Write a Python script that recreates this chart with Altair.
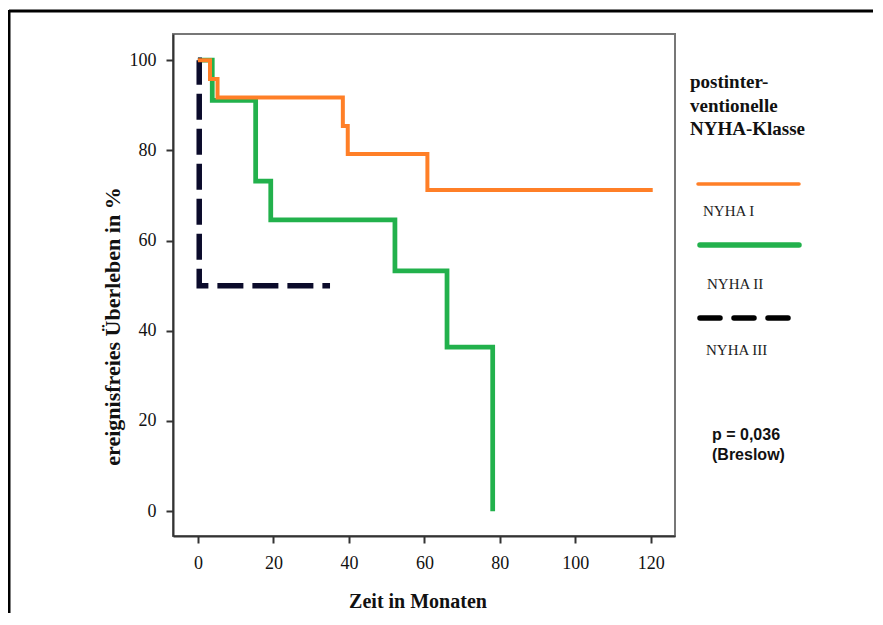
import altair as alt
import pandas as pd

# ---- data ----
names = ["NYHA II", "NYHA III", "NYHA I"]
t_nyha1 = [0, 3.2, 5.2, 38.4, 39.7, 60.8, 120.5]
s_nyha1 = [100, 95.8, 91.7, 85.4, 79.2, 71.2, 71.2]
t_nyha2 = [0, 3.8, 15.3, 19.3, 52.2, 66.0, 78.1]
s_nyha2 = [100, 91.1, 73.2, 64.6, 53.3, 36.4, 0]
t_nyha3 = [0, 0.35, 35.0]
s_nyha3 = [100, 50, 50]
x_ticks = [0, 20, 40, 60, 80, 100, 120]
y_ticks = [0, 20, 40, 60, 80, 100]

colors = {"NYHA I": "#FF7F27", "NYHA II": "#22B14C", "NYHA III": "#0B0B2B"}
widths = {"NYHA I": 4, "NYHA II": 5.5, "NYHA III": 5}
dashes = {"NYHA I": [1, 0], "NYHA II": [1, 0], "NYHA III": [26, 9]}

rows = []
for name, ts, ss in [("NYHA II", t_nyha2, s_nyha2), ("NYHA III", t_nyha3, s_nyha3), ("NYHA I", t_nyha1, s_nyha1)]:
    for t, s in zip(ts, ss):
        rows.append({"series": name, "t": t, "s": s})
df = pd.DataFrame(rows)

W, H = 502, 502
SERIF = "Liberation Serif"
SANS = "Liberation Sans"

x_axis = alt.Axis(values=x_ticks, grid=False, tickSize=7, tickWidth=2, tickColor="#333",
                  domainColor="#333", domainWidth=2, labelFont=SERIF, labelFontSize=18,
                  labelColor="#111", labelPadding=11, labelFlush=False, labelOverlap=False,
                  title="Zeit in Monaten", titleFont=SERIF, titleFontSize=20,
                  titleFontWeight="bold", titleColor="#111", titleX=244.5, titleY=65,
                  titleBaseline="middle", titleAlign="center")
y_axis = alt.Axis(values=y_ticks, grid=False, tickSize=7, tickWidth=2, tickColor="#333",
                  domainColor="#333", domainWidth=2, labelFont=SERIF, labelFontSize=18,
                  labelColor="#111", labelPadding=10, labelOverlap=False,
                  title="ereignisfreies Überleben in %", titleFont=SERIF, titleFontSize=22,
                  titleFontWeight="bold", titleColor="#111", titleX=-61, titleY=292,
                  titleAngle=270, titleBaseline="middle", titleAlign="center")

lines = alt.Chart(df).mark_line(interpolate="step-after", strokeCap="butt").encode(
    x=alt.X("t:Q", scale=alt.Scale(domain=[-6.6, 126.4], nice=False, zero=False), axis=x_axis),
    y=alt.Y("s:Q", scale=alt.Scale(domain=[-5.5, 105.8], nice=False, zero=False), axis=y_axis),
    color=alt.Color("series:N", scale=alt.Scale(domain=list(colors), range=list(colors.values())), legend=None),
    strokeWidth=alt.StrokeWidth("series:N", scale=alt.Scale(domain=list(widths), range=list(widths.values())), legend=None),
    strokeDash=alt.StrokeDash("series:N", scale=alt.Scale(domain=list(dashes), range=list(dashes.values())), legend=None),
    detail="series:N",
    order=alt.Order("t:Q"),
)

one = alt.Data(values=[{"a": 1}])
layers = [lines]

# outer frame (top and left black lines)
layers.append(alt.Chart(one).mark_rule(color="black", strokeWidth=3).encode(
    x=alt.value(-164), x2=alt.value(720), y=alt.value(-23)))
layers.append(alt.Chart(one).mark_rule(color="black", strokeWidth=3).encode(
    x=alt.value(-164), y=alt.value(-24), y2=alt.value(700)))

# legend title
for i, line in enumerate(["postinter-", "ventionelle", "NYHA-Klasse"]):
    layers.append(alt.Chart(one).mark_text(font=SERIF, fontSize=19, fontWeight="bold", color="#111",
                                           align="left", baseline="middle").encode(
        x=alt.value(517), y=alt.value(48 + 23.5 * i), text=alt.value(line)))

# legend entries
legend_cfg = [
    ("NYHA I", 525, 626, 150, 530, 177, "round"),
    ("NYHA II", 527, 626, 211, 534, 250, "round"),
    ("NYHA III", 527, 621, 284, 533, 316, "round"),
]
for name, x1, x2, ly, tx, ty, cap in legend_cfg:
    lw = 3.5 if name == "NYHA I" else 5.5
    dash = [20, 14] if name == "NYHA III" else [1, 0]
    layers.append(alt.Chart(one).mark_rule(color=colors[name] if name != "NYHA III" else "#000",
                                           strokeWidth=lw, strokeDash=dash, strokeCap=cap).encode(
        x=alt.value(x1), x2=alt.value(x2), y=alt.value(ly)))
    layers.append(alt.Chart(one).mark_text(font=SERIF, fontSize=15, color="#222",
                                           align="left", baseline="middle").encode(
        x=alt.value(tx), y=alt.value(ty), text=alt.value(name)))

# p-value
for i, line in enumerate(["p = 0,036", "(Breslow)"]):
    layers.append(alt.Chart(one).mark_text(font=SANS, fontSize=16, fontWeight="bold", color="#111",
                                           align="left", baseline="middle").encode(
        x=alt.value(539), y=alt.value(401 + 20 * i), text=alt.value(line)))

chart = alt.layer(*layers).properties(
    width=W, height=H,
    autosize=alt.AutoSizeParams(type="none"),
    padding={"left": 165, "top": 26, "right": 198, "bottom": 77},
    background="white",
).configure_view(stroke="#777", strokeWidth=2)

chart.save("out.html", embed_options={"renderer": "svg", "actions": False})
